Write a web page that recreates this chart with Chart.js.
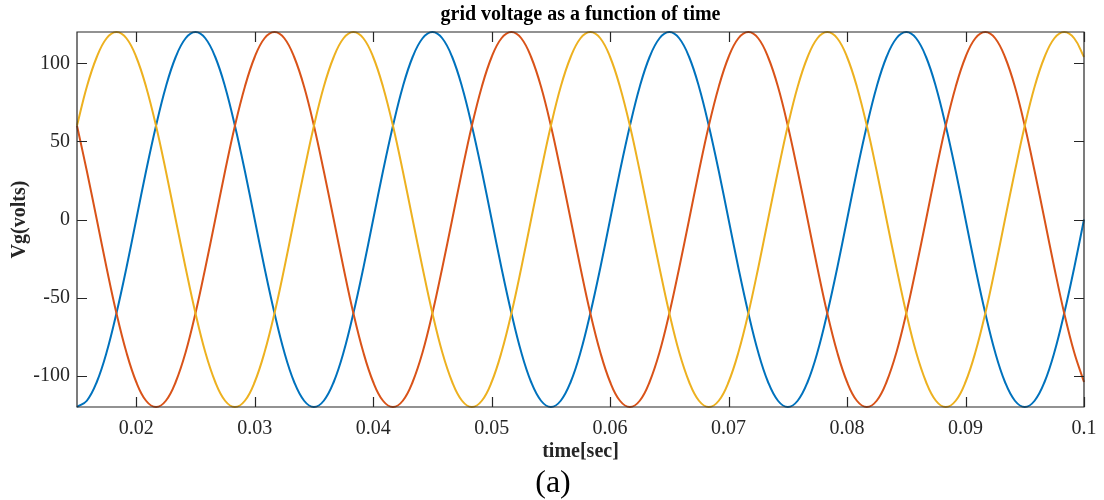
<!DOCTYPE html>
<html>
<head>
<meta charset="utf-8">
<script src="https://cdn.jsdelivr.net/npm/chart.js@4.4.1/dist/chart.umd.min.js"></script>
<style>
html,body{margin:0;padding:0;background:#fff;}
#wrap{position:relative;width:1104px;height:500px;}
</style>
</head>
<body>
<div id="wrap"><canvas id="c" width="1104" height="500"></canvas></div>
<script>
const titleText = "grid voltage as a function of time";
const xLabel = "time[sec]";
const yLabel = "Vg(volts)";
const caption = "(a)";
const xTicks = [0.02,0.03,0.04,0.05,0.06,0.07,0.08,0.09,0.1];
const yTicks = [-100,-50,0,50,100];

const timeSec = [0.015,0.01583,0.01667,0.0175,0.01833,0.01917,
0.02,0.02083,0.02167,0.0225,0.02333,0.02417,0.025,0.02583,0.02667,0.0275,0.02833,0.02917,
0.03,0.03083,0.03167,0.0325,0.03333,0.03417,0.035,0.03583,0.03667,0.0375,0.03833,0.03917,
0.04,0.04083,0.04167,0.0425,0.04333,0.04417,0.045,0.04583,0.04667,0.0475,0.04833,0.04917,
0.05,0.05083,0.05167,0.0525,0.05333,0.05417,0.055,0.05583,0.05667,0.0575,0.05833,0.05917,
0.06,0.06083,0.06167,0.0625,0.06333,0.06417,0.065,0.06583,0.06667,0.0675,0.06833,0.06917,
0.07,0.07083,0.07167,0.0725,0.07333,0.07417,0.075,0.07583,0.07667,0.0775,0.07833,0.07917,
0.08,0.08083,0.08167,0.0825,0.08333,0.08417,0.085,0.08583,0.08667,0.0875,0.08833,0.08917,
0.09,0.09083,0.09167,0.0925,0.09333,0.09417,0.095,0.09583,0.09667,0.0975,0.09833,0.09917,
0.1];

const phaseA = [
-120,-116,-104,-85,-60,-31,0,31,60,85,104,116,120,116,104,85,60,31,0,-31,-60,-85,-104,-116,
-120,-116,-104,-85,-60,-31,0,31,60,85,104,116,120,116,104,85,60,31,0,-31,-60,-85,-104,-116,
-120,-116,-104,-85,-60,-31,0,31,60,85,104,116,120,116,104,85,60,31,0,-31,-60,-85,-104,-116,
-120,-116,-104,-85,-60,-31,0,31,60,85,104,116,120,116,104,85,60,31,0,-31,-60,-85,-104,-116,
-120,-116,-104,-85,-60,-31,0];
const phaseB = [
60,31,0,-31,-60,-85,-104,-116,-120,-116,-104,-85,-60,-31,0,31,60,85,104,116,120,116,104,85,
60,31,0,-31,-60,-85,-104,-116,-120,-116,-104,-85,-60,-31,0,31,60,85,104,116,120,116,104,85,
60,31,0,-31,-60,-85,-104,-116,-120,-116,-104,-85,-60,-31,0,31,60,85,104,116,120,116,104,85,
60,31,0,-31,-60,-85,-104,-116,-120,-116,-104,-85,-60,-31,0,31,60,85,104,116,120,116,104,85,
60,31,0,-31,-60,-85,-104];
const phaseC = [
60,85,104,116,120,116,104,85,60,31,0,-31,-60,-85,-104,-116,-120,-116,-104,-85,-60,-31,0,31,
60,85,104,116,120,116,104,85,60,31,0,-31,-60,-85,-104,-116,-120,-116,-104,-85,-60,-31,0,31,
60,85,104,116,120,116,104,85,60,31,0,-31,-60,-85,-104,-116,-120,-116,-104,-85,-60,-31,0,31,
60,85,104,116,120,116,104,85,60,31,0,-31,-60,-85,-104,-116,-120,-116,-104,-85,-60,-31,0,31,
60,85,104,116,120,116,104];

const colors = ['#0072BD','#D95319','#EDB120'];
const axisColor = '#262626';
const serif = '"Liberation Serif","Times New Roman",serif';

function pts(ys){ return timeSec.map((t,i)=>({x:t,y:ys[i]})); }

const frame = {
  id:'frame',
  afterDatasetsDraw(chart){
    const {ctx, chartArea:a, scales:{x,y}} = chart;
    ctx.save();
    ctx.strokeStyle = axisColor;
    ctx.lineWidth = 1.2;
    ctx.beginPath();
    ctx.rect(a.left, a.top, a.right-a.left, a.bottom-a.top);
    ctx.stroke();
    const tl = 10;
    ctx.beginPath();
    xTicks.forEach(v=>{
      const px = Math.round(x.getPixelForValue(v))+0.5;
      ctx.moveTo(px,a.bottom); ctx.lineTo(px,a.bottom-tl);
      ctx.moveTo(px,a.top); ctx.lineTo(px,a.top+tl);
    });
    yTicks.forEach(v=>{
      const py = Math.round(y.getPixelForValue(v))+0.5;
      ctx.moveTo(a.left,py); ctx.lineTo(a.left+tl,py);
      ctx.moveTo(a.right,py); ctx.lineTo(a.right-tl,py);
    });
    ctx.stroke();
    ctx.textAlign = 'center';
    ctx.textBaseline = 'middle';
    const cx = (a.left+a.right)/2;
    ctx.fillStyle = '#000';
    ctx.font = 'bold 20px ' + serif;
    ctx.fillText(titleText, cx, 15);
    ctx.fillStyle = axisColor;
    ctx.fillText(xLabel, cx, 452);
    ctx.save();
    ctx.translate(20, (a.top+a.bottom)/2);
    ctx.rotate(-Math.PI/2);
    ctx.fillText(yLabel, 0, 0);
    ctx.restore();
    ctx.fillStyle = '#000';
    ctx.font = '32px ' + serif;
    ctx.fillText(caption, 553, 484);
    ctx.restore();
  }
};

new Chart(document.getElementById('c'), {
  type:'line',
  data:{
    datasets:[
      {data:pts(phaseA), borderColor:colors[0], order:3},
      {data:pts(phaseB), borderColor:colors[1], order:2},
      {data:pts(phaseC), borderColor:colors[2], order:1}
    ]
  },
  options:{
    responsive:false,
    animation:false,
    devicePixelRatio:1,
    layout:{padding:{top:32,right:20,left:0,bottom:0}},
    elements:{
      line:{borderWidth:2,tension:0.4,fill:false},
      point:{radius:0}
    },
    clip:3,
    plugins:{legend:{display:false},title:{display:false},tooltip:{enabled:false}},
    scales:{
      x:{
        type:'linear', min:0.015, max:0.1,
        afterBuildTicks(s){ s.ticks = xTicks.map(v=>({value:v})); },
        afterFit(s){ s.height = 93; s.paddingRight = 0; },
        grid:{display:false, drawTicks:false},
        border:{display:false},
        ticks:{
          color:axisColor, padding:10, maxRotation:0,
          font:{family:serif,size:20},
          callback:(v)=>String(Number(v.toFixed(3)))
        }
      },
      y:{
        type:'linear', min:-120, max:120,
        afterBuildTicks(s){ s.ticks = yTicks.map(v=>({value:v})); },
        afterFit(s){ s.width = 77; },
        grid:{display:false, drawTicks:false},
        border:{display:false},
        ticks:{
          color:axisColor, padding:7,
          font:{family:serif,size:20},
          callback:(v)=>String(v)
        }
      }
    }
  },
  plugins:[frame]
});
</script>
</body>
</html>
